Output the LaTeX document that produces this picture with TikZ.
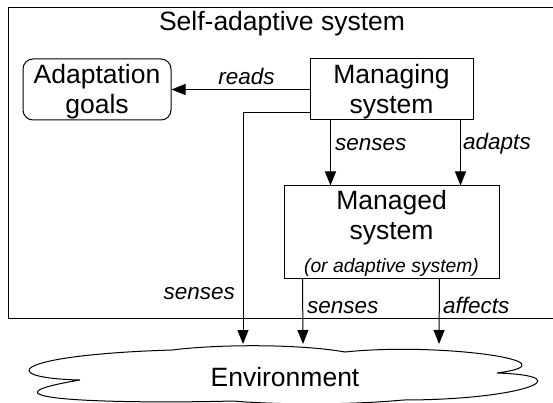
\documentclass[tikz,border=0pt]{standalone}
\usepackage{fontspec}
\setmainfont{Liberation Sans}
\usetikzlibrary{arrows.meta}
\begin{document}
\begin{tikzpicture}[x=1pt,y=-1pt,
  box/.style={draw, line width=1pt, inner sep=0pt},
  txt/.style={inner sep=0pt, anchor=base, font=\fontsize{26.5}{30}\selectfont},
  lbl/.style={inner sep=0pt, font=\fontsize{22.5}{26}\selectfont\itshape},
  smalltxt/.style={inner sep=0pt, anchor=base, font=\fontsize{19.3}{22}\selectfont\itshape},
  arr/.style={line width=1pt, -{Triangle[length=14pt,width=11pt]}}]
\useasboundingbox (0,0) rectangle (553,403);
% outer container
\node[box, anchor=north west, minimum width=548pt, minimum height=311pt] (sas) at (8,7) {};
\node[txt] (title) at (282,31) {Self-adaptive system};
% boxes
\node[box, rounded corners=10pt, minimum width=148pt, minimum height=61pt] (goals) at (97,89.5) {};
\node[txt] (goalsA) at (97,84) {Adaptation};
\node[txt] (goalsB) at (97,114) {goals};
\node[box, minimum width=163pt, minimum height=61pt] (managing) at (391.5,89.5) {};
\node[txt] (managingA) at (391.5,84) {Managing};
\node[txt] (managingB) at (391.5,113.5) {system};
\node[box, minimum width=215pt, minimum height=92pt] (managed) at (391.5,232) {};
\node[txt] (managedA) at (391.5,209) {Managed};
\node[txt] (managedB) at (391.5,239) {system};
\node[smalltxt] (managedC) at (391.5,272) {(or adaptive system)};
% environment cloud
\draw[line width=1pt] (172,350) .. controls (220,344) and (300,344) .. (345,352)
  .. controls (440,342) and (580,362) .. (497,373)
  .. controls (585,376) and (520,400) .. (403,400)
  .. controls (350,405) and (280,405) .. (233,401)
  .. controls (120,404) and (-40,400) .. (80,380)
  .. controls (-5,378) and (10,355) .. (172,350) -- cycle;
\node[txt] (env) at (285,386.5) {Environment};
\coordinate (e1) at (243,344);
\coordinate (e2) at (303,344);
\coordinate (e3) at (439,344);
% connectors
\draw[arr] (managing.west) -- (goals.east);
\draw[arr] ([xshift=21pt]managing.south west) -- ([xshift=21pt]managing.south west |- managed.north);
\draw[arr] ([xshift=-13pt]managing.south east) -- ([xshift=-13pt]managing.south east |- managed.north);
\draw[arr] ([yshift=8pt]managing.south west) -| (e1);
\draw[arr] ([xshift=19pt]managed.south west) -- (e2);
\draw[arr] ([xshift=-60pt]managed.south east) -- (e3);
% labels
\node[lbl, anchor=base] (lreads) at (246.5,85) {reads};
\node[lbl, anchor=base west] (lsenses1) at (335,151) {senses};
\node[lbl, anchor=base west] (ladapts) at (463,150) {adapts};
\node[lbl, anchor=base east] (lsenses2) at (235,299) {senses};
\node[lbl, anchor=base west] (lsenses3) at (307,313) {senses};
\node[lbl, anchor=base west] (laffects) at (443,313.5) {affects};
\end{tikzpicture}
\end{document}
